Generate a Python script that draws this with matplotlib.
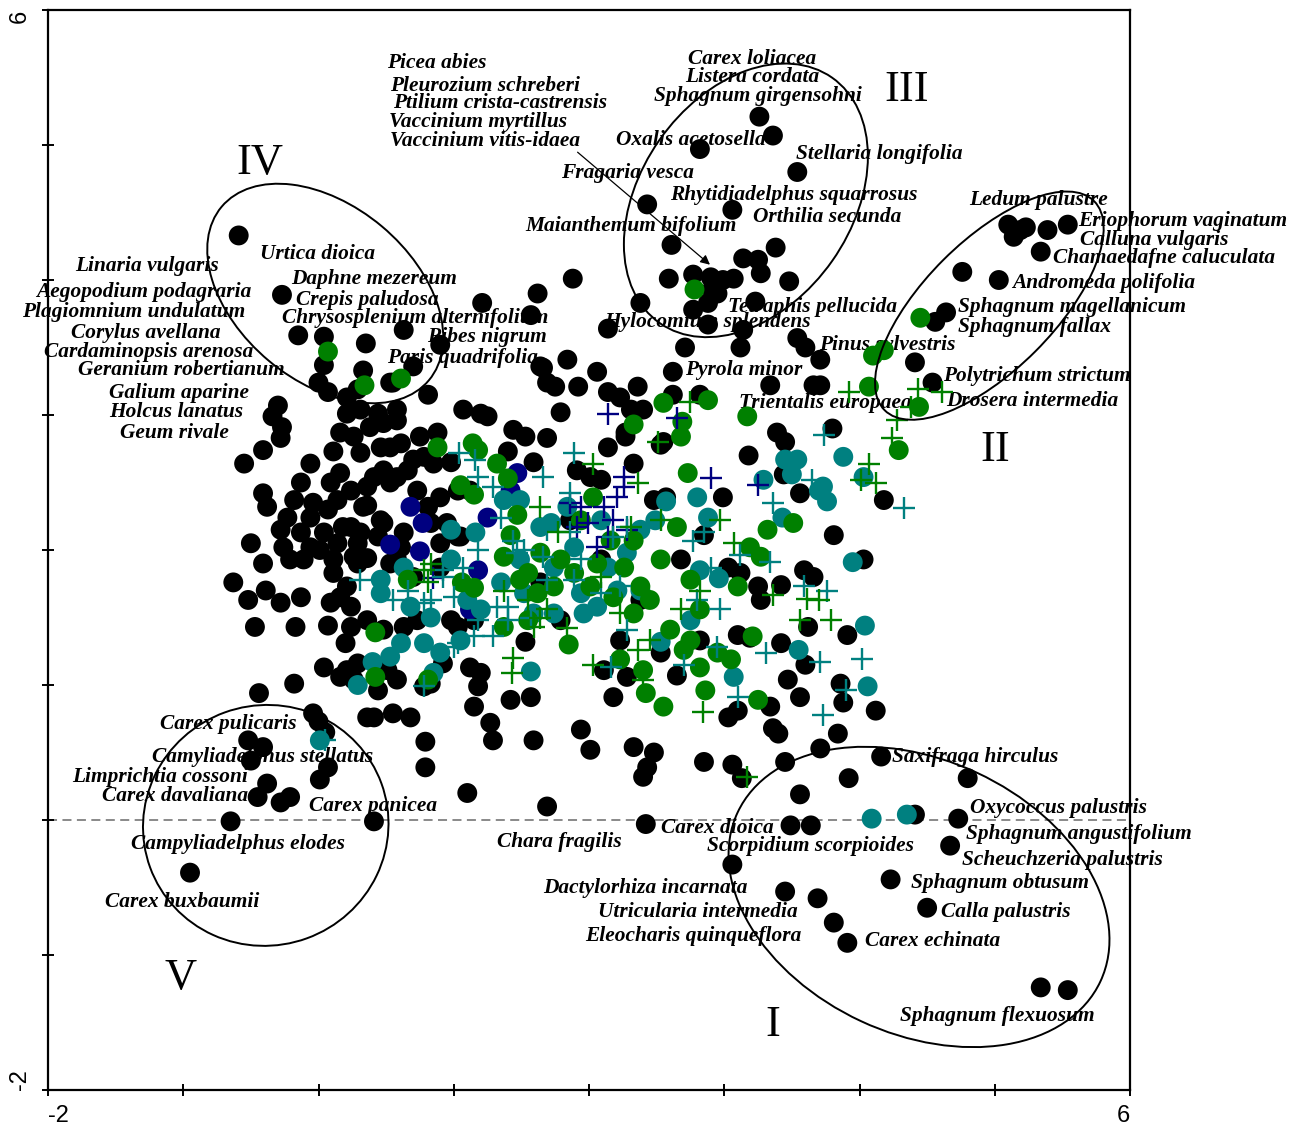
import matplotlib
matplotlib.use("Agg")
import matplotlib.pyplot as plt
from matplotlib.patches import Ellipse
import numpy as np

# ordination scores (axis 1, axis 2) per sample group
black_pts = [
    (3.26, 5.21), (3.36, 5.07), (2.82, 4.97), (3.54, 4.80), (2.43, 4.56), (3.06, 4.52),
    (2.61, 4.26), (3.38, 4.24), (3.14, 4.16), (3.25, 4.15), (2.59, 4.01), (2.77, 4.04),
    (2.90, 4.02), (2.99, 4.00), (3.07, 4.01), (3.27, 4.05), (3.48, 3.99), (2.91, 3.93),
    (2.95, 3.90), (2.38, 3.83), (2.77, 3.78), (2.88, 3.83), (3.23, 3.84), (2.88, 3.67),
    (3.14, 3.63), (1.88, 4.01), (1.62, 3.90), (2.14, 3.64), (2.71, 3.50), (3.12, 3.50),
    (3.54, 3.57), (3.60, 3.50), (3.71, 3.41), (4.41, 3.39), (2.62, 3.32), (1.84, 3.41),
    (1.66, 3.35), (1.75, 3.21), (2.06, 3.32), (2.14, 3.17), (2.23, 3.13), (2.36, 3.21),
    (2.62, 3.15), (2.82, 3.15), (3.34, 3.22), (3.66, 3.22), (1.79, 3.02), (1.69, 2.83),
    (2.31, 3.04), (2.40, 3.04), (2.14, 2.76), (2.27, 2.84), (2.55, 2.80), (2.33, 2.64),
    (3.18, 2.70), (3.39, 2.87), (3.45, 2.80), (3.80, 2.90), (1.59, 2.65), (1.91, 2.59),
    (2.09, 2.52), (2.48, 2.37), (2.57, 2.39), (4.18, 2.37), (3.56, 2.42), (3.44, 2.56),
    (2.99, 2.39), (2.85, 2.11), (3.03, 1.87), (3.12, 1.83), (3.25, 1.73), (3.27, 1.63),
    (3.42, 1.74), (3.59, 1.85), (3.66, 1.80), (3.81, 2.11), (4.03, 1.93), (3.62, 1.43),
    (3.10, 1.37), (3.19, 1.35), (3.42, 1.31), (3.60, 1.15), (3.47, 1.04), (3.56, 0.91),
    (3.86, 1.01), (3.88, 0.87), (3.91, 1.37), (4.12, 0.81), (3.34, 0.84), (3.10, 0.81),
    (3.03, 0.76), (3.36, 0.68), (3.40, 0.64), (3.84, 0.64), (3.71, 0.53), (2.48, 0.50),
    (2.85, 0.43), (3.06, 0.41), (3.45, 0.43), (2.40, 0.32), (2.65, 1.07), (2.53, 1.24),
    (4.16, 0.47), (3.13, 0.31), (3.92, 0.31), (3.56, 0.19), (4.80, 0.31), (4.41, 0.04),
    (4.73, 0.01), (4.67, -0.19), (4.23, -0.44), (3.45, -0.53), (3.69, -0.58), (3.81, -0.76),
    (3.91, -0.91), (4.50, -0.65), (5.34, -1.24), (5.54, -1.26), (3.49, -0.04), (3.64, -0.04),
    (3.06, -0.33), (2.42, -0.03), (1.69, 0.10), (1.10, 0.20),
    (5.10, 4.41), (5.19, 4.37), (5.14, 4.32), (5.23, 4.39), (5.39, 4.37), (5.54, 4.41),
    (5.34, 4.21), (4.76, 4.06), (5.03, 4.00), (4.64, 3.76), (4.56, 3.69), (4.54, 3.24),
    (3.71, 3.22),
    (-0.59, 4.33), (-0.27, 3.89), (-0.15, 3.59), (0.04, 3.58), (0.35, 3.53), (0.63, 3.63),
    (0.90, 3.52), (1.21, 3.83), (1.57, 3.74), (1.64, 3.36), (1.69, 3.24), (0.04, 3.37),
    (0.00, 3.24), (0.07, 3.17), (0.33, 3.33), (0.53, 3.24), (0.70, 3.36), (0.81, 3.15),
    (-0.30, 3.07), (-0.34, 2.99), (-0.27, 2.91), (-0.28, 2.83), (-0.41, 2.74), (-0.55, 2.64),
    (0.21, 3.13), (0.21, 3.01), (0.31, 3.04), (0.44, 3.01), (0.58, 3.04), (0.16, 2.87),
    (0.26, 2.84), (0.38, 2.91), (0.48, 2.94), (0.58, 2.96), (0.11, 2.73), (0.31, 2.72),
    (0.46, 2.76), (0.61, 2.79), (-0.06, 2.64), (0.16, 2.57), (0.48, 2.59), (0.66, 2.59),
    (1.07, 3.04), (1.25, 2.99), (1.44, 2.89), (1.53, 2.84), (0.75, 2.84), (0.88, 2.87),
    (0.70, 2.67), (0.78, 2.69), (0.98, 2.65), (1.40, 2.73), (-0.13, 2.50), (0.09, 2.50),
    (0.36, 2.47), (0.53, 2.50), (0.73, 2.44), (-0.41, 2.42), (-0.38, 2.32), (-0.18, 2.37),
    (-0.04, 2.35), (0.14, 2.37), (0.36, 2.33), (-0.23, 2.24), (-0.06, 2.24), (0.07, 2.30),
    (-0.28, 2.15), (-0.13, 2.13), (0.04, 2.13), (0.18, 2.17), (0.31, 2.13), (0.48, 2.20),
    (0.63, 2.13), (0.83, 2.20), (0.95, 2.20), (-0.50, 2.05), (-0.26, 2.02), (-0.06, 2.02),
    (0.14, 2.05), (0.29, 2.05), (0.44, 2.10), (0.61, 2.02), (0.90, 2.05), (1.03, 2.10),
    (-0.41, 1.90), (-0.21, 1.93), (0.11, 1.93), (0.26, 1.95), (0.53, 1.90), (-0.11, 1.93),
    (0.01, 2.00), (-0.63, 1.76), (-0.52, 1.63), (-0.39, 1.70), (-0.28, 1.61), (-0.13, 1.65),
    (0.11, 1.83), (0.36, 1.94), (0.21, 1.73), (0.09, 1.61), (0.24, 1.58), (-0.47, 1.43),
    (-0.17, 1.43), (0.07, 1.44), (0.24, 1.43), (0.36, 1.48), (0.20, 1.31), (0.48, 1.41),
    (0.63, 1.43), (0.73, 1.48), (1.03, 1.43), (0.04, 1.13), (0.21, 1.11), (0.29, 1.16),
    (0.16, 1.06), (0.26, 1.04), (0.51, 1.11), (0.58, 1.04), (0.44, 0.96), (0.78, 0.99),
    (0.92, 1.16), (1.12, 1.13), (1.20, 1.09), (1.18, 0.99), (1.15, 0.84), (1.42, 0.89),
    (1.57, 0.91), (1.53, 1.32), (-0.18, 1.01), (-0.44, 0.94), (-0.04, 0.79), (0.00, 0.73),
    (0.05, 0.65), (0.41, 0.76), (0.55, 0.79), (0.68, 0.76), (0.79, 0.58), (0.79, 0.39),
    (1.27, 0.72), (1.29, 0.59), (1.59, 0.59), (1.94, 0.67), (2.01, 0.52), (2.33, 0.54),
    (-0.52, 0.59), (-0.41, 0.54), (-0.50, 0.44), (0.07, 0.39), (0.01, 0.30), (-0.38, 0.27),
    (-0.45, 0.17), (-0.21, 0.17), (-0.28, 0.13), (-0.65, -0.01), (0.41, -0.01), (-0.95, -0.39),
    (2.11, 1.11), (2.18, 0.91), (2.28, 1.06),
    (0.29, 3.19), (0.55, 3.24), (1.20, 3.01), (2.01, 2.54), (1.92, 3.21), (0.85, 2.64),
    (0.53, 2.76), (0.41, 2.54), (0.24, 2.44), (0.58, 2.54), (0.33, 2.32), (0.24, 2.17),
    (0.46, 2.22), (0.81, 2.32), (0.90, 2.39), (1.03, 2.44), (1.12, 2.44), (1.05, 2.10),
    (0.29, 1.90), (0.58, 1.93), (0.70, 1.80), (0.90, 1.87), (0.16, 1.65), (0.98, 1.48),
    (1.15, 1.48), (1.64, 1.76), (2.43, 0.39), (0.36, 0.76), (0.83, 1.01), (2.27, 2.87),
    (2.53, 2.78), (1.86, 2.22), (2.09, 1.93), (2.38, 1.63), (2.68, 1.93), (2.82, 1.33),
    (1.79, 1.48), (2.23, 1.33),
]

navy_pts = [
    (1.47, 2.57), (0.68, 2.32), (0.77, 2.20), (0.53, 2.04), (0.75, 1.99), (1.25, 2.24),
    (1.18, 1.85), (1.12, 1.56), (1.42, 2.44),
]

teal_pts = [
    (0.98, 2.15), (1.16, 2.13), (1.37, 2.37), (1.49, 2.37), (1.64, 2.17), (1.72, 2.20),
    (0.63, 1.87), (0.46, 1.78), (0.46, 1.68), (0.68, 1.58), (0.83, 1.50), (0.98, 1.93),
    (1.10, 1.63), (1.20, 1.56), (1.35, 1.76), (1.52, 1.68), (1.74, 1.87), (1.89, 2.02),
    (1.94, 1.68), (2.06, 1.58), (1.74, 1.53), (1.59, 1.53), (1.84, 2.32), (1.96, 1.53),
    (2.14, 1.87), (2.21, 1.70), (2.28, 1.98), (1.05, 1.33), (0.61, 1.31), (0.53, 1.21),
    (0.40, 1.17), (0.29, 1.00), (0.78, 1.31), (0.90, 1.24), (0.85, 1.09), (1.57, 1.10),
    (0.01, 0.59), (3.45, 2.67), (3.54, 2.67), (3.50, 2.56), (3.88, 2.69), (3.29, 2.52),
    (3.70, 2.44), (3.76, 2.36), (3.43, 2.24), (3.95, 1.91), (4.04, 1.44), (2.80, 2.39),
    (2.88, 2.24), (2.57, 2.36), (2.49, 2.22), (2.96, 1.79), (2.53, 1.32), (3.07, 1.06),
    (3.55, 1.26), (4.06, 0.99), (4.03, 2.54), (3.73, 2.47), (4.09, 0.01), (4.35, 0.04),
    (2.09, 2.22), (2.38, 2.15), (1.49, 1.93), (2.38, 1.70), (2.75, 1.48), (2.82, 1.85),
]

green_pts = [
    (0.07, 3.47), (0.34, 3.22), (0.61, 3.27), (0.88, 2.76), (1.14, 2.79), (1.18, 2.74),
    (1.32, 2.64), (1.40, 2.53), (1.05, 2.48), (1.15, 2.41), (1.42, 2.11), (1.37, 1.95),
    (1.47, 2.26), (2.78, 3.93), (2.55, 3.09), (2.88, 3.11), (2.33, 2.93), (2.69, 2.95),
    (2.68, 2.84), (3.17, 2.99), (4.10, 3.44), (4.18, 3.48), (4.07, 3.21), (4.29, 2.74),
    (4.45, 3.72), (4.44, 3.06), (2.73, 2.57), (3.32, 2.15), (3.51, 2.20), (3.10, 1.73),
    (2.65, 2.17), (3.19, 2.02), (3.27, 1.95), (3.21, 1.36), (3.25, 0.89), (2.55, 0.84),
    (2.42, 0.94), (2.82, 1.13), (2.70, 1.26), (2.95, 1.24), (0.42, 1.39), (0.42, 1.06),
    (0.81, 1.04), (1.15, 1.72), (1.06, 1.76), (1.37, 1.43), (1.49, 1.78), (1.85, 1.30),
    (2.40, 1.11), (1.64, 1.98), (0.66, 1.78), (1.55, 1.83), (1.62, 1.68), (1.55, 1.48),
    (1.74, 1.73), (1.89, 1.83), (2.03, 2.39), (2.06, 1.90), (2.26, 1.87), (2.33, 2.07),
    (2.18, 1.65), (2.01, 1.73), (2.38, 1.73), (2.33, 1.53), (2.53, 1.93), (2.45, 1.63),
    (2.75, 1.78), (2.82, 1.56), (2.60, 1.41), (2.16, 2.07), (1.94, 2.22), (1.79, 1.93),
    (2.23, 1.19), (2.75, 1.33), (2.86, 0.96), (3.05, 1.19),
]

navy_cross = [
    (2.14, 3.01), (2.65, 2.98), (2.90, 2.53), (3.25, 2.48), (2.26, 2.54), (1.86, 2.35),
    (1.94, 2.32), (1.99, 2.20), (2.11, 2.32), (2.21, 2.39), (2.26, 2.47), (2.18, 2.22),
    (2.14, 2.10), (2.06, 2.02), (2.28, 2.15), (1.91, 2.17), (0.85, 1.79),
]

teal_cross = [
    (1.04, 2.72), (1.16, 2.67), (1.18, 2.54), (1.66, 2.54), (1.35, 2.24), (1.47, 1.98),
    (1.18, 2.00), (1.29, 2.47), (1.89, 2.72), (1.44, 2.07), (1.69, 2.15), (1.94, 1.93),
    (1.89, 1.78), (0.31, 1.78), (0.55, 1.63), (0.83, 1.63), (0.92, 1.80), (1.32, 1.58),
    (1.40, 1.48), (1.69, 1.78), (2.09, 1.68), (2.23, 1.73), (1.86, 2.13), (2.28, 2.17),
    (2.18, 2.10), (1.86, 2.42), (0.66, 1.70), (0.78, 1.61), (0.92, 1.85), (1.07, 1.87),
    (1.00, 1.65), (1.18, 1.48), (1.15, 1.36), (1.29, 1.36), (1.40, 1.58), (1.57, 1.50),
    (0.78, 0.99), (0.05, 0.59), (1.03, 1.31), (1.66, 1.95), (1.52, 2.00), (3.74, 2.85),
    (4.33, 2.31), (3.36, 2.35), (3.65, 2.52), (3.34, 1.91), (3.12, 1.96), (3.59, 1.73),
    (3.76, 1.70), (2.77, 2.07), (2.85, 2.13), (2.90, 1.87), (2.97, 1.56), (3.31, 1.24),
    (3.71, 1.17), (4.02, 1.19), (3.90, 0.96), (3.73, 0.78), (3.10, 0.91), (2.70, 1.15),
    (2.95, 1.28), (2.80, 1.63), (2.16, 1.13), (2.28, 1.41), (1.00, 1.28),
]

green_cross = [
    (1.64, 2.32), (0.83, 1.90), (1.37, 1.70), (1.59, 1.43), (1.44, 1.20), (1.43, 1.09),
    (1.64, 1.50), (0.78, 1.85), (0.81, 1.76), (1.77, 2.13), (2.03, 2.64), (2.36, 2.50),
    (2.31, 2.17), (1.55, 1.63), (1.69, 1.56), (2.09, 1.80), (2.23, 1.53), (2.03, 1.15),
    (2.36, 1.26), (2.40, 1.04), (1.84, 1.42), (3.92, 3.17), (4.43, 3.19), (4.61, 3.17),
    (4.38, 3.06), (4.28, 2.96), (4.24, 2.83), (4.07, 2.64), (4.01, 2.52), (4.12, 2.50),
    (3.07, 2.05), (3.36, 1.67), (3.61, 1.64), (3.70, 1.63), (3.56, 1.48), (3.79, 1.48),
    (2.51, 2.80), (2.75, 3.10), (2.84, 0.80), (3.17, 0.32), (2.53, 2.22), (2.82, 1.70),
    (2.68, 1.56), (2.45, 1.33), (2.97, 2.22),
]

# species names with their label anchor (left edge, middle)
species = [
    ("Picea abies", 0.51, 5.61), ("Pleurozium schreberi", 0.53, 5.44),
    ("Ptilium crista-castrensis", 0.55, 5.31), ("Vaccinium myrtillus", 0.52, 5.17),
    ("Vaccinium vitis-idaea", 0.53, 5.03), ("Carex loliacea", 2.73, 5.64),
    ("Listera cordata", 2.71, 5.50), ("Sphagnum girgensohni", 2.48, 5.36),
    ("Oxalis acetosella", 2.20, 5.04), ("Stellaria longifolia", 3.53, 4.93),
    ("Fragaria vesca", 1.79, 4.79), ("Rhytidiadelphus squarrosus", 2.60, 4.63),
    ("Orthilia secunda", 3.21, 4.47), ("Maianthemum bifolium", 1.53, 4.40),
    ("Ledum palustre", 4.81, 4.59), ("Eriophorum vaginatum", 5.62, 4.44),
    ("Calluna vulgaris", 5.63, 4.30), ("Chamaedafne caluculata", 5.43, 4.16),
    ("Andromeda polifolia", 5.13, 3.98), ("Sphagnum magellanicum", 4.73, 3.80),
    ("Sphagnum fallax", 4.73, 3.65), ("Urtica dioica", -0.43, 4.19),
    ("Linaria vulgaris", -1.80, 4.10), ("Daphne mezereum", -0.20, 4.01),
    ("Aegopodium podagraria", -2.09, 3.91), ("Crepis paludosa", -0.17, 3.85),
    ("Plagiomnium undulatum", -2.19, 3.76), ("Chrysosplenium alternifolium", -0.27, 3.72),
    ("Corylus avellana", -1.83, 3.61), ("Ribes nigrum", 0.80, 3.58),
    ("Cardaminopsis arenosa", -2.03, 3.47), ("Paris quadrifolia", 0.51, 3.42),
    ("Geranium robertianum", -1.78, 3.33), ("Galium aparine", -1.55, 3.16),
    ("Holcus lanatus", -1.55, 3.02), ("Geum rivale", -1.47, 2.87),
    ("Tetraphis pellucida", 3.03, 3.80), ("Hylocomium splendens", 2.11, 3.69),
    ("Pinus sylvestris", 3.70, 3.52), ("Pyrola minor", 2.71, 3.33),
    ("Polytrichum strictum", 4.62, 3.29), ("Trientalis europaea", 3.11, 3.09),
    ("Drosera intermedia", 4.64, 3.10), ("Carex pulicaris", -1.17, 0.71),
    ("Camyliadelphus stellatus", -1.23, 0.47), ("Limprichtia cossoni", -1.82, 0.32),
    ("Carex davaliana", -1.60, 0.18), ("Carex panicea", -0.07, 0.10),
    ("Campyliadelphus elodes", -1.39, -0.18), ("Carex buxbaumii", -1.58, -0.61),
    ("Chara fragilis", 1.32, -0.16), ("Carex dioica", 2.53, -0.06),
    ("Scorpidium scorpioides", 2.87, -0.19), ("Dactylorhiza incarnata", 1.66, -0.50),
    ("Utricularia intermedia", 2.07, -0.68), ("Eleocharis quinqueflora", 1.97, -0.86),
    ("Saxifraga hirculus", 4.24, 0.47), ("Oxycoccus palustris", 4.82, 0.09),
    ("Sphagnum angustifolium", 4.79, -0.10), ("Scheuchzeria palustris", 4.76, -0.30),
    ("Sphagnum obtusum", 4.38, -0.47), ("Calla palustris", 4.60, -0.68),
    ("Carex echinata", 4.04, -0.90), ("Sphagnum flexuosum", 4.30, -1.45),
]

# species groups: label, label position, ellipse centre, width, height, angle
groups = [
    ("I", (3.36, -1.52), (4.44, -0.57), 2.96, 2.03, -25),
    ("II", (5.00, 2.74), (4.96, 3.81), 2.19, 0.96, 45),
    ("III", (4.35, 5.41), (3.16, 4.59), 2.22, 1.56, 55),
    ("IV", (-0.43, 4.87), (0.05, 3.90), 2.00, 1.30, -40),
    ("V", (-1.02, -1.17), (-0.39, -0.04), 1.82, 1.78, 20),
]

GREEN = "#008000"
TEAL = "#008080"
NAVY = "#000080"

fig = plt.figure(figsize=(12.95, 11.31), dpi=100)
ax = fig.add_axes([48 / 1295, 41 / 1131, 1082 / 1295, 1080 / 1131])
ax.set_xlim(-2, 6)
ax.set_ylim(-2, 6)

ax.axhline(0, color="#808080", lw=1.3, ls=(0, (5, 3)), zorder=1)

for name, x, y in species:
    ax.text(x, y, name, family="Liberation Serif", fontsize=15.4, fontweight="bold",
            fontstyle="italic", ha="left", va="center", zorder=2, clip_on=False)

circle_groups = [(black_pts, "black"), (navy_pts, NAVY), (teal_pts, TEAL), (green_pts, GREEN)]
for pts, col in circle_groups:
    arr = np.array(pts)
    ax.scatter(arr[:, 0], arr[:, 1], s=205, c=col, edgecolors="none", zorder=3)

cross_groups = [(navy_cross, NAVY), (teal_cross, TEAL), (green_cross, GREEN)]
for pts, col in cross_groups:
    arr = np.array(pts)
    ax.scatter(arr[:, 0], arr[:, 1], s=240, c=col, marker="+", linewidths=1.7, zorder=4)

for label, (lx, ly), centre, w, h, ang in groups:
    ax.add_patch(Ellipse(centre, w, h, angle=ang, fill=False, ec="black", lw=1.4, zorder=5))
    ax.text(lx, ly, label, family="Liberation Serif", fontsize=32, ha="center", va="center",
            zorder=5)

ax.annotate("", xy=(2.91, 4.10), xytext=(1.90, 4.96),
            arrowprops=dict(arrowstyle="-|>", color="black", lw=0.9, mutation_scale=14),
            zorder=5)

ticks = np.arange(-2, 7, 1)
ax.set_xticks(ticks)
ax.set_yticks(ticks)
ax.set_xticklabels(["-2"] + [""] * 7 + ["6"], family="Liberation Sans", fontsize=17)
ax.set_yticklabels(["-2"] + [""] * 7 + ["6"], family="Liberation Sans", fontsize=17,
                   rotation=90)
xl = ax.get_xticklabels()
xl[0].set_ha("left")
xl[-1].set_ha("right")
yl = ax.get_yticklabels()
yl[0].set_va("bottom")
yl[-1].set_va("top")
ax.tick_params(direction="inout", length=9, width=1.4, pad=6)
ax.tick_params(axis="y", pad=8)
for sp in ax.spines.values():
    sp.set_linewidth(1.6)

fig.savefig("out.png", dpi=100)
